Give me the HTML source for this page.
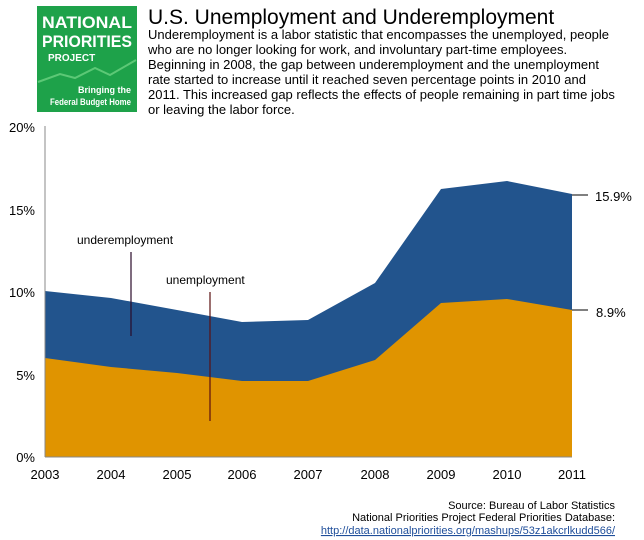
<!DOCTYPE html>
<html><head><meta charset="utf-8"><style>
body{margin:0;width:644px;height:540px;background:#fff;overflow:hidden;font-family:"Liberation Sans",sans-serif;}
</style></head><body>
<svg width="644" height="540" xmlns="http://www.w3.org/2000/svg" style="position:absolute;left:0;top:0">
<rect x="37" y="6" width="100" height="106" fill="#1ea24a"/>
<text x="87" y="28" fill="#fff" font-size="17" font-weight="bold" text-anchor="middle" textLength="90" lengthAdjust="spacingAndGlyphs">NATIONAL</text>
<text x="87" y="47" fill="#fff" font-size="17" font-weight="bold" text-anchor="middle" textLength="90" lengthAdjust="spacingAndGlyphs">PRIORITIES</text>
<text x="48" y="61" fill="#fff" font-size="10" font-weight="bold">PROJECT</text>
<polyline points="38,82 60,74 75,78 95,68 110,75 136,60" fill="none" stroke="#5cc876" stroke-width="2"/>
<text x="131" y="93" fill="#fff" font-size="9" font-weight="bold" text-anchor="end">Bringing the</text>
<text x="131" y="105" fill="#fff" font-size="9" font-weight="bold" text-anchor="end" textLength="81" lengthAdjust="spacingAndGlyphs">Federal Budget Home</text>
<text x="148" y="24" font-size="21" fill="#000">U.S. Unemployment and Underemployment</text>
<g font-size="13" fill="#000">
<text x="148" y="39">Underemployment is a labor statistic that encompasses the unemployed, people</text>
<text x="148" y="54">who are no longer looking for work, and involuntary part-time employees.</text>
<text x="148" y="69">Beginning in 2008, the gap between underemployment and the unemployment</text>
<text x="148" y="84">rate started to increase until it reached seven percentage points in 2010 and</text>
<text x="148" y="99">2011. This increased gap reflects the effects of people remaining in part time jobs</text>
<text x="148" y="114">or leaving the labor force.</text>
</g>
<polygon points="45,291 111,298 177,310 242,322 308,320 375,283 441,189 507,181 572,194 572,457 45,457" fill="#22548d"/>
<polygon points="45,358 111,367 177,373 242,381 308,381 375,360 441,303 507,299 572,310 572,457 45,457" fill="#e09400"/>
<line x1="45" y1="126" x2="45" y2="457" stroke="#888" stroke-width="1"/>
<line x1="45" y1="457" x2="572" y2="457" stroke="#888" stroke-width="1"/>
<g font-size="13" fill="#000" text-anchor="end">
<text x="35" y="132">20%</text><text x="35" y="215">15%</text><text x="35" y="297">10%</text><text x="35" y="380">5%</text><text x="35" y="462">0%</text>
</g>
<g font-size="13" fill="#000" text-anchor="middle">
<text x="45" y="479">2003</text><text x="111" y="479">2004</text><text x="177" y="479">2005</text><text x="242" y="479">2006</text><text x="308" y="479">2007</text><text x="375" y="479">2008</text><text x="441" y="479">2009</text><text x="507" y="479">2010</text><text x="572" y="479">2011</text>
</g>
<line x1="572" y1="195" x2="588" y2="195" stroke="#000"/>
<line x1="572" y1="310" x2="588" y2="310" stroke="#000"/>
<text x="595" y="201" font-size="13">15.9%</text>
<text x="596" y="317" font-size="13">8.9%</text>
<text x="77" y="244" font-size="12">underemployment</text>
<line x1="131" y1="252" x2="131" y2="336" stroke="#2a0a2a" stroke-width="1.2"/>
<text x="166" y="284" font-size="12">unemployment</text>
<line x1="210" y1="292" x2="210" y2="421" stroke="#5a1010" stroke-width="1.2"/>
<g font-size="11" text-anchor="end" fill="#000">
<text x="615" y="509">Source: Bureau of Labor Statistics</text>
<text x="615" y="521">National Priorities Project Federal Priorities Database:</text>
<text x="615" y="534" fill="#1f4e9a" text-decoration="underline">http://data.nationalpriorities.org/mashups/53z1akcrlkudd566/</text>
</g>
</svg>
</body></html>
